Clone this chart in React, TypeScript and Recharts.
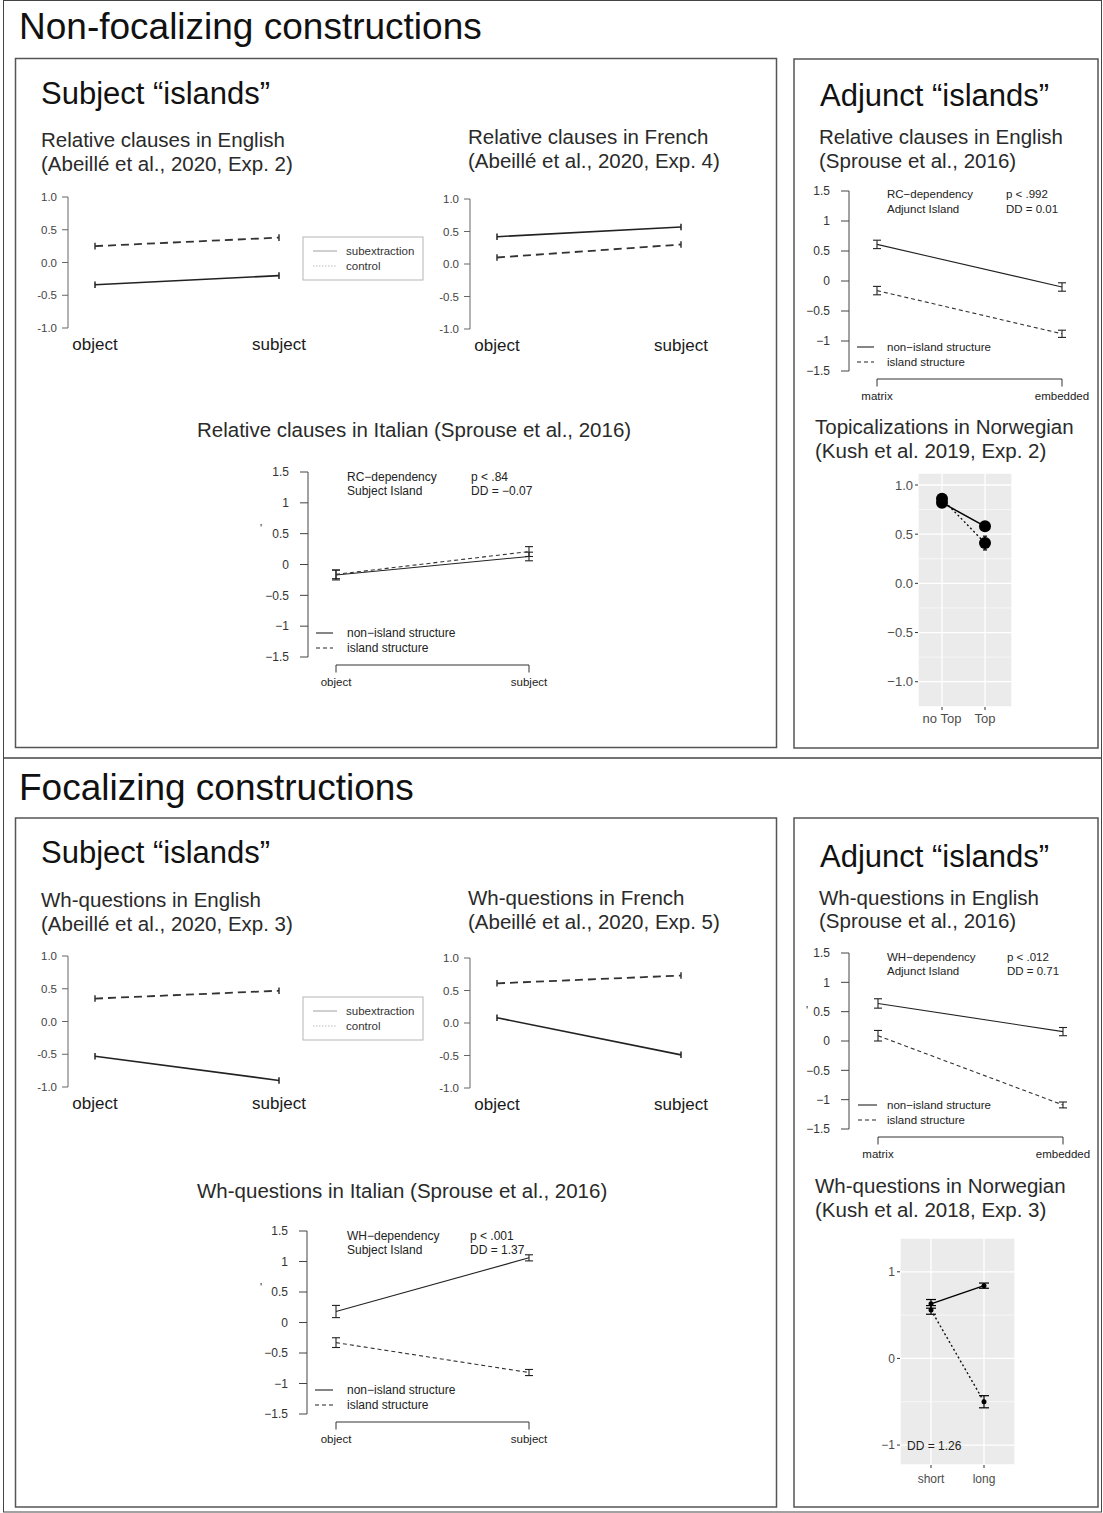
import React from 'react';
import { LineChart, Line, XAxis, YAxis, ErrorBar, CartesianGrid, ReferenceLine } from 'recharts';

const FONT = "'Liberation Sans', Arial, Helvetica, sans-serif";

// categories
const subjCats = ['object', 'subject'];
const adjCats = ['matrix', 'embedded'];
const topCats = ['no Top', 'Top'];
const lenCats = ['short', 'long'];

// Abeillé et al. 2020 (subextraction vs control)
const rcEnSubext = [-0.34, -0.2];
const rcEnControl = [0.25, 0.38];
const rcFrSubext = [0.42, 0.57];
const rcFrControl = [0.1, 0.3];
const whEnSubext = [-0.53, -0.9];
const whEnControl = [0.35, 0.47];
const whFrSubext = [0.08, -0.49];
const whFrControl = [0.61, 0.73];
const smallErr = [0.05, 0.05];

// Sprouse et al. 2016 (non-island vs island structure)
const rcItNon = [-0.17, 0.13];
const rcItNonErr = [0.08, 0.07];
const rcItIsl = [-0.16, 0.21];
const rcItIslErr = [0.07, 0.08];
const rcAdjNon = [0.61, -0.1];
const rcAdjNonErr = [0.07, 0.07];
const rcAdjIsl = [-0.16, -0.88];
const rcAdjIslErr = [0.07, 0.06];
const whItNon = [0.18, 1.06];
const whItNonErr = [0.1, 0.05];
const whItIsl = [-0.33, -0.82];
const whItIslErr = [0.08, 0.05];
const whAdjNon = [0.64, 0.16];
const whAdjNonErr = [0.08, 0.07];
const whAdjIsl = [0.09, -1.09];
const whAdjIslErr = [0.09, 0.05];

// Kush et al.
const topNorSolid = [0.82, 0.58];
const topNorSolidErr = [0.03, 0.04];
const topNorDotted = [0.86, 0.41];
const topNorDottedErr = [0.03, 0.07];
const whNorSolid = [0.63, 0.84];
const whNorSolidErr = [0.05, 0.03];
const whNorDotted = [0.56, -0.5];
const whNorDottedErr = [0.05, 0.07];

const basicTicks = [-1, -0.5, 0, 0.5, 1];
const sprouseTicks = [-1.5, -1, -0.5, 0, 0.5, 1, 1.5];

const minus = (s: string) => s.replace('-', '\u2212');

function mkData(cats: string[], a: number[], aErr: number[], b: number[], bErr: number[]) {
  return cats.map((c, i) => ({ cat: c, a: a[i], aErr: aErr[i], b: b[i], bErr: bErr[i] }));
}

function BasicPanel({ axisX, yTop, yBot, xs, solid, dashed }: any) {
  const yw = 45, mt = 8, xh = 32, padR = 22, extra = 40;
  const plotW = xs[1] + padR - axisX;
  const data = mkData(subjCats, solid, smallErr, dashed, smallErr);
  return (
    <div style={{ position: 'absolute', left: axisX - yw, top: yTop - mt }}>
      <LineChart width={yw + plotW + extra} height={mt + yBot - yTop + xh} data={data}
        margin={{ top: mt, right: extra, bottom: 0, left: 0 }}>
        <XAxis dataKey="cat" interval={0} padding={{ left: xs[0] - axisX, right: padR }}
          axisLine={false} tickLine={false} tickSize={6} tickMargin={4} height={xh}
          tick={{ fontSize: 17, fill: '#1a1a1a' }} />
        <YAxis type="number" domain={[-1, 1]} ticks={basicTicks} interval={0} width={yw}
          tickFormatter={(v: number) => v.toFixed(1)} tickSize={6} tickMargin={5}
          stroke="#666" tick={{ fontSize: 11.5, fill: '#444' }} />
        <Line dataKey="b" stroke="#333" strokeWidth={1.8} strokeDasharray="8 5" dot={false}
          activeDot={false} isAnimationActive={false}>
          <ErrorBar dataKey="bErr" width={0} stroke="#333" strokeWidth={1.5} />
        </Line>
        <Line dataKey="a" stroke="#222" strokeWidth={1.6} dot={false} activeDot={false}
          isAnimationActive={false}>
          <ErrorBar dataKey="aErr" width={0} stroke="#222" strokeWidth={1.5} />
        </Line>
      </LineChart>
    </div>
  );
}

function BracketPanel({ axisX, yTop, yBot, xs, bracketY, cats, solid, solidErr, dashed, dashedErr }: any) {
  const yw = 45, mt = 10, mb = 12, side = 40, xh = 30;
  const unit = (yBot - yTop) / 3;
  const low = -1.5 - (bracketY - yBot) / unit;
  const data = mkData(cats, solid, solidErr, dashed, dashedErr);
  return (
    <>
      <div style={{ position: 'absolute', left: axisX - yw, top: yTop - mt }}>
        <LineChart width={yw + xs[1] - axisX} height={mt + yBot - yTop + mb} data={data}
          margin={{ top: mt, right: 0, bottom: mb, left: 0 }}>
          <XAxis dataKey="cat" hide />
          <YAxis type="number" domain={[-1.5, 1.5]} allowDataOverflow ticks={sprouseTicks} interval={0}
            width={yw} tickFormatter={(v: number) => minus(String(v))} tickSize={8} tickMargin={11}
            stroke="#444" tick={{ fontSize: 12, fill: '#333' }} />
        </LineChart>
      </div>
      <div style={{ position: 'absolute', left: xs[0] - side, top: yTop - mt }}>
        <LineChart width={xs[1] - xs[0] + 2 * side} height={mt + bracketY - yTop + xh} data={data}
          margin={{ top: mt, right: side, bottom: 0, left: side }}>
          <XAxis dataKey="cat" interval={0} height={xh} axisLine={{ stroke: '#333' }}
            tickLine={{ stroke: '#333' }} tickSize={7.5} tickMargin={5}
            tick={{ fontSize: 11.5, fill: '#222' }} />
          <YAxis hide type="number" domain={[low, 1.5]} />
          <Line dataKey="a" stroke="#222" strokeWidth={1.1} dot={false} activeDot={false}
            isAnimationActive={false}>
            <ErrorBar dataKey="aErr" width={4} stroke="#222" strokeWidth={1.1} />
          </Line>
          <Line dataKey="b" stroke="#333" strokeWidth={1.1} strokeDasharray="4 3" dot={false}
            activeDot={false} isAnimationActive={false}>
            <ErrorBar dataKey="bErr" width={4} stroke="#222" strokeWidth={1.1} />
          </Line>
        </LineChart>
      </div>
    </>
  );
}

function GgPanel({ left, top, right, bottom, yw, xs, cats, domain, ticks, minor, fmt, solid, solidErr,
  dotted, dottedErr, r, capW, fontSize, labelGap }: any) {
  const xh = 28, extra = 10;
  const data = mkData(cats, solid, solidErr, dotted, dottedErr);
  return (
    <div style={{ position: 'absolute', left: left - yw, top }}>
      <LineChart width={yw + right - left + extra} height={bottom - top + xh} data={data}
        margin={{ top: 0, right: extra, bottom: 0, left: 0 }}>
        <CartesianGrid fill="#ebebeb" stroke="#fff" strokeWidth={1.3} />
        {minor.map((v: number) => (
          <ReferenceLine key={v} y={v} stroke="#fff" strokeWidth={0.6} />
        ))}
        <XAxis dataKey="cat" interval={0} padding={{ left: xs[0] - left, right: right - xs[1] }}
          axisLine={false} tickLine={{ stroke: '#333' }} tickSize={3} tickMargin={labelGap}
          height={xh} tick={{ fontSize, fill: '#4d4d4d' }} />
        <YAxis type="number" domain={domain} allowDataOverflow ticks={ticks} interval={0} width={yw}
          axisLine={false} tickLine={{ stroke: '#333' }} tickSize={3} tickMargin={2}
          tickFormatter={fmt} tick={{ fontSize, fill: '#4d4d4d' }} />
        <Line dataKey="a" stroke="#000" strokeWidth={1.5} isAnimationActive={false} activeDot={false}
          dot={{ r, fill: '#000', stroke: '#000', strokeWidth: 0 }}>
          <ErrorBar dataKey="aErr" width={capW} stroke="#000" strokeWidth={1.2} />
        </Line>
        <Line dataKey="b" stroke="#111" strokeWidth={1.4} strokeDasharray="2 2.5" isAnimationActive={false}
          activeDot={false} dot={{ r, fill: '#000', stroke: '#000', strokeWidth: 0 }}>
          <ErrorBar dataKey="bErr" width={capW} stroke="#000" strokeWidth={1.2} />
        </Line>
      </LineChart>
    </div>
  );
}

const titles: [string, number, number][] = [
  ['Non-focalizing constructions', 19, 39],
  ['Focalizing constructions', 19, 800],
];
const boxTitles: [string, number, number][] = [
  ['Subject \u201Cislands\u201D', 41, 104],
  ['Adjunct \u201Cislands\u201D', 820, 106],
  ['Subject \u201Cislands\u201D', 41, 863],
  ['Adjunct \u201Cislands\u201D', 820, 867],
];
const subTitles: [string, number, number][] = [
  ['Relative clauses in English', 41, 147],
  ['(Abeill\u00E9 et al., 2020, Exp. 2)', 41, 171],
  ['Relative clauses in French', 468, 144],
  ['(Abeill\u00E9 et al., 2020, Exp. 4)', 468, 168],
  ['Relative clauses in Italian (Sprouse et al., 2016)', 197, 437],
  ['Relative clauses in English', 819, 144],
  ['(Sprouse et al., 2016)', 819, 168],
  ['Topicalizations in Norwegian', 815, 434],
  ['(Kush et al. 2019, Exp. 2)', 815, 458],
  ['Wh-questions in English', 41, 907],
  ['(Abeill\u00E9 et al., 2020, Exp. 3)', 41, 931],
  ['Wh-questions in French', 468, 905],
  ['(Abeill\u00E9 et al., 2020, Exp. 5)', 468, 929],
  ['Wh-questions in Italian (Sprouse et al., 2016)', 197, 1198],
  ['Wh-questions in English', 819, 905],
  ['(Sprouse et al., 2016)', 819, 928],
  ['Wh-questions in Norwegian', 815, 1193],
  ['(Kush et al. 2018, Exp. 3)', 815, 1217],
];
// small annotation texts inside the Sprouse panels
const notes: [string, number, number, number][] = [
  ['RC\u2212dependency', 347, 481, 12], ['Subject Island', 347, 495, 12],
  ['p < .84', 471, 481, 12], ['DD = \u22120.07', 471, 495, 12],
  ['non\u2212island structure', 347, 637, 12], ['island structure', 347, 652, 12],
  ['RC\u2212dependency', 887, 198, 11.5], ['Adjunct Island', 887, 213, 11.5],
  ['p < .992', 1006, 198, 11.5], ['DD = 0.01', 1006, 213, 11.5],
  ['non\u2212island structure', 887, 351, 11.5], ['island structure', 887, 366, 11.5],
  ['WH\u2212dependency', 347, 1240, 12], ['Subject Island', 347, 1254, 12],
  ['p < .001', 470, 1240, 12], ['DD = 1.37', 470, 1254, 12],
  ['non\u2212island structure', 347, 1394, 12], ['island structure', 347, 1409, 12],
  ['WH\u2212dependency', 887, 961, 11.5], ['Adjunct Island', 887, 975, 11.5],
  ['p < .012', 1007, 961, 11.5], ['DD = 0.71', 1007, 975, 11.5],
  ['non\u2212island structure', 887, 1109, 11.5], ['island structure', 887, 1124, 11.5],
  ["'", 260, 532, 11], ["'", 260, 1291, 11], ["'", 806, 1014, 11],
];
// legend keys for Sprouse panels: [x1, x2, y, dashed]
const keys: [number, number, number, boolean][] = [
  [316, 333, 633, false], [316, 333, 648, true],
  [857, 874, 347, false], [857, 874, 362, true],
  [315, 333, 1390, false], [315, 333, 1405, true],
  [858, 877, 1105, false], [858, 877, 1120, true],
];

function BoxLegend({ x, y }: { x: number; y: number }) {
  return (
    <g>
      <rect x={x} y={y} width={120} height={43} fill="#fff" stroke="#b5b5b5" strokeWidth={1} />
      <line x1={x + 10} x2={x + 34} y1={y + 14} y2={y + 14} stroke="#888" strokeWidth={0.8} />
      <line x1={x + 10} x2={x + 34} y1={y + 29} y2={y + 29} stroke="#aaa" strokeWidth={0.8} strokeDasharray="1.5 1.5" />
      <text x={x + 43} y={y + 18} fontSize={11.5} fill="#333">subextraction</text>
      <text x={x + 43} y={y + 33} fontSize={11.5} fill="#333">control</text>
    </g>
  );
}

export default function App() {
  return (
    <div style={{ position: 'absolute', left: 0, top: 0, width: 1103, height: 1513, background: '#fff', fontFamily: FONT }}>
      <BasicPanel axisX={68} yTop={197} yBot={328} xs={[95, 279]} solid={rcEnSubext} dashed={rcEnControl} />
      <BasicPanel axisX={470} yTop={199} yBot={329} xs={[497, 681]} solid={rcFrSubext} dashed={rcFrControl} />
      <BasicPanel axisX={68} yTop={956} yBot={1087} xs={[95, 279]} solid={whEnSubext} dashed={whEnControl} />
      <BasicPanel axisX={470} yTop={958} yBot={1088} xs={[497, 681]} solid={whFrSubext} dashed={whFrControl} />

      <BracketPanel axisX={308} yTop={472} yBot={657} xs={[336, 529]} bracketY={665} cats={subjCats}
        solid={rcItNon} solidErr={rcItNonErr} dashed={rcItIsl} dashedErr={rcItIslErr} />
      <BracketPanel axisX={849} yTop={191} yBot={371} xs={[877, 1062]} bracketY={379} cats={adjCats}
        solid={rcAdjNon} solidErr={rcAdjNonErr} dashed={rcAdjIsl} dashedErr={rcAdjIslErr} />
      <BracketPanel axisX={307} yTop={1231} yBot={1414} xs={[336, 529]} bracketY={1422} cats={subjCats}
        solid={whItNon} solidErr={whItNonErr} dashed={whItIsl} dashedErr={whItIslErr} />
      <BracketPanel axisX={849} yTop={953} yBot={1129} xs={[878, 1063]} bracketY={1137} cats={adjCats}
        solid={whAdjNon} solidErr={whAdjNonErr} dashed={whAdjIsl} dashedErr={whAdjIslErr} />

      <GgPanel left={918} top={473} right={1012} bottom={707} yw={40} xs={[942, 985]} cats={topCats}
        domain={[-1.257, 1.122]} ticks={[-1, -0.5, 0, 0.5, 1]} minor={[-0.75, -0.25, 0.25, 0.75]}
        fmt={(v: number) => minus(v.toFixed(1))} solid={topNorSolid} solidErr={topNorSolidErr}
        dotted={topNorDotted} dottedErr={topNorDottedErr} r={6} capW={2} fontSize={13} labelGap={4} />
      <GgPanel left={900} top={1238} right={1015} bottom={1465} yw={35} xs={[931, 984]} cats={lenCats}
        domain={[-1.23, 1.39]} ticks={[-1, 0, 1]} minor={[-0.5, 0.5]}
        fmt={(v: number) => minus(String(v))} solid={whNorSolid} solidErr={whNorSolidErr}
        dotted={whNorDotted} dottedErr={whNorDottedErr} r={2.5} capW={5} fontSize={12} labelGap={6} />

      <svg width={1103} height={1513} style={{ position: 'absolute', left: 0, top: 0, pointerEvents: 'none' }}
        fontFamily={FONT}>
        <rect x={3.5} y={0.5} width={1098} height={757.5} fill="none" stroke="#444" strokeWidth={1} />
        <rect x={3.5} y={758} width={1098} height={754} fill="none" stroke="#444" strokeWidth={1} />
        <rect x={15.5} y={58.5} width={761} height={689} fill="none" stroke="#555" strokeWidth={1.5} />
        <rect x={794} y={59} width={304} height={689} fill="none" stroke="#555" strokeWidth={1.5} />
        <rect x={15.5} y={818} width={761} height={689} fill="none" stroke="#555" strokeWidth={1.5} />
        <rect x={794} y={818} width={304} height={689} fill="none" stroke="#555" strokeWidth={1.5} />
        {titles.map(([t, x, y]) => (
          <text key={t} x={x} y={y} fontSize={37} fill="#111">{t}</text>
        ))}
        {boxTitles.map(([t, x, y], i) => (
          <text key={i} x={x} y={y} fontSize={31} fill="#111">{t}</text>
        ))}
        {subTitles.map(([t, x, y], i) => (
          <text key={i} x={x} y={y} fontSize={20.5} fill="#2a2a2a">{t}</text>
        ))}
        {notes.map(([t, x, y, s], i) => (
          <text key={i} x={x} y={y} fontSize={s} fill="#222">{t}</text>
        ))}
        {keys.map(([x1, x2, y, d], i) => (
          <line key={i} x1={x1} x2={x2} y1={y} y2={y} stroke="#222" strokeWidth={1.1}
            strokeDasharray={d ? '4 3' : undefined} />
        ))}
        <BoxLegend x={303} y={237} />
        <BoxLegend x={303} y={997} />
        <text x={907} y={1450} fontSize={12} fill="#222">DD = 1.26</text>
      </svg>
    </div>
  );
}
